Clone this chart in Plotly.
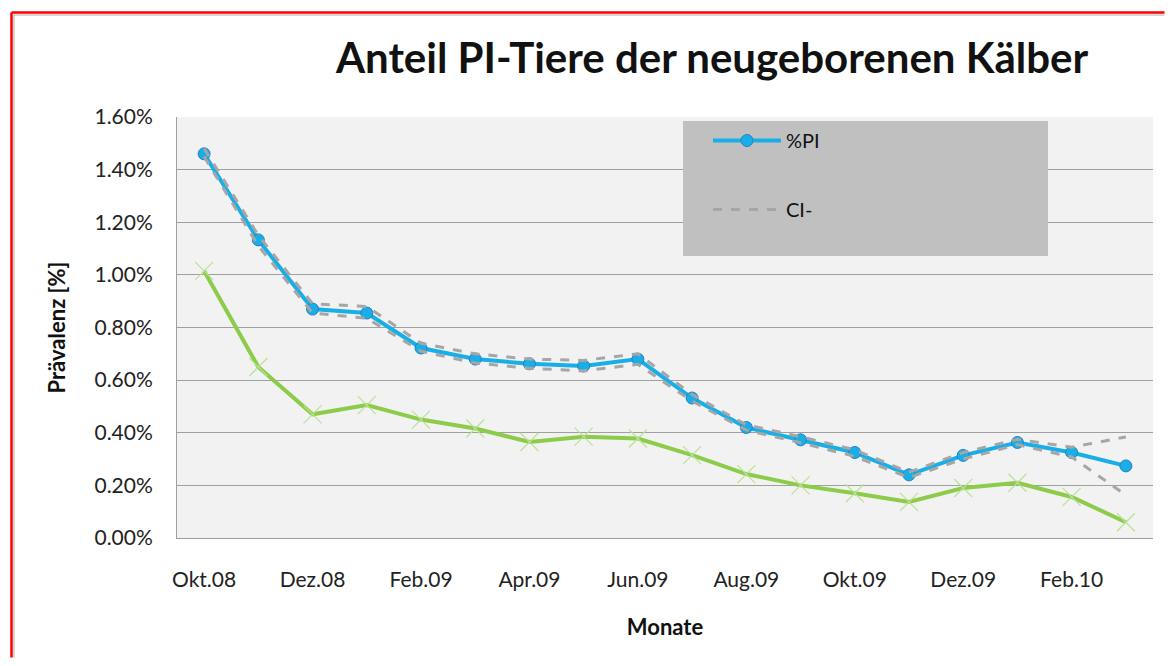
import plotly.graph_objects as go

months = ["Okt.08", "Nov.08", "Dez.08", "Jan.09", "Feb.09", "Mär.09", "Apr.09", "Mai.09",
          "Jun.09", "Jul.09", "Aug.09", "Sep.09", "Okt.09", "Nov.09", "Dez.09", "Jan.10",
          "Feb.10", "Mär.10"]
pct_pi = [1.46, 1.133, 0.87, 0.855, 0.722, 0.68, 0.662, 0.654, 0.68, 0.532,
          0.42, 0.373, 0.325, 0.24, 0.314, 0.363, 0.325, 0.274]
ci_upper = [1.48, 1.15, 0.89, 0.88, 0.74, 0.70, 0.68, 0.675, 0.70, 0.545,
            0.43, 0.385, 0.335, 0.25, 0.325, 0.375, 0.345, 0.384]
ci_lower = [1.45, 1.11, 0.855, 0.835, 0.71, 0.665, 0.645, 0.635, 0.66, 0.52,
            0.41, 0.362, 0.31, 0.23, 0.30, 0.355, 0.308, 0.163]
green = [1.015, 0.65, 0.47, 0.505, 0.45, 0.416, 0.365, 0.385, 0.378, 0.315,
         0.243, 0.20, 0.17, 0.137, 0.19, 0.21, 0.156, 0.06]
y_ticks = [0, 0.2, 0.4, 0.6, 0.8, 1.0, 1.2, 1.4, 1.6]
x_ticks = months[::2]

FONT = "Lato"
fig = go.Figure()

fig.add_trace(go.Scatter(
    x=months, y=green, mode="lines+markers", name="Serie",
    line=dict(color="#8DCB4A", width=4),
    marker=dict(symbol="x-thin", size=18, line=dict(color="#B9E295", width=1.2)),
    showlegend=False))
fig.add_trace(go.Scatter(
    x=months, y=pct_pi, mode="lines+markers", name="%PI", legendgroup="a",
    line=dict(color="#18AEE8", width=4),
    marker=dict(symbol="circle", size=12, color="#18AEE8",
                line=dict(color="#2C7FBF", width=1))))
fig.add_trace(go.Scatter(
    x=months, y=ci_lower, mode="lines", name="CI-", legendgroup="b",
    line=dict(color="#A6A6A6", width=3, dash="dash")))
fig.add_trace(go.Scatter(
    x=months, y=ci_upper, mode="lines", name="CI+", legendgroup="c",
    line=dict(color="#A6A6A6", width=3, dash="dash"), showlegend=False))

# page offset of the figure inside the browser body
OFF = 8
L, R, T, B = 169, 12, 109, 120
W, H = 1157, 650
pw, ph = W - L - R, H - T - B


def px(xpage):
    return (xpage - OFF - L) / pw


def py(ypage):
    return (H - B - (ypage - OFF)) / ph


def border_lines(x, y, color, width):
    xr = W + OFF - 0.5
    yb = H + OFF - 0.5
    return [
        dict(type="line", xref="paper", yref="paper",
             x0=px(x), x1=px(xr), y0=py(y), y1=py(y),
             line=dict(color=color, width=width), layer="below"),
        dict(type="line", xref="paper", yref="paper",
             x0=px(x), x1=px(x), y0=py(y), y1=py(yb),
             line=dict(color=color, width=width), layer="below"),
    ]


fig.update_layout(
    width=W, height=H,
    margin=dict(l=L, r=R, t=T, b=B),
    paper_bgcolor="#FFFFFF",
    plot_bgcolor="#F2F2F2",
    font=dict(family=FONT, size=21, color="#222222"),
    title=dict(text="<b>Anteil PI-Tiere der neugeborenen Kälber</b>",
               font=dict(family=FONT, size=42, color="#111111"),
               xref="container", x=(712 - OFF) / W, xanchor="center",
               y=1 - (58 - OFF) / H, yanchor="middle"),
    xaxis=dict(
        type="category", categoryorder="array", categoryarray=months,
        range=[-0.5, len(months) - 0.5],
        tickmode="array", tickvals=x_ticks, ticktext=x_ticks,
        showgrid=False, showline=True, linecolor="#A0A0A0", linewidth=1,
        ticks="", ticklabelstandoff=23,
        tickfont=dict(family=FONT, size=21, color="#222222"),
        title=dict(text="<b>Monate</b>", font=dict(family=FONT, size=22, color="#111111"),
                   standoff=29),
    ),
    yaxis=dict(
        range=[0, 1.6], tickmode="array", tickvals=y_ticks,
        ticktext=[f"{v:.2f}%" for v in y_ticks],
        showgrid=True, gridcolor="#A0A0A0", gridwidth=1,
        showline=True, linecolor="#A0A0A0", linewidth=1, zeroline=False,
        ticks="", ticklabelstandoff=19,
        tickfont=dict(family=FONT, size=21, color="#222222"),
        title=dict(text="<b>Prävalenz [%]</b>", font=dict(family=FONT, size=22, color="#111111"),
                   standoff=22),
    ),
    legend=dict(
        x=px(708), y=py(121), xanchor="left", yanchor="top",
        bgcolor="rgba(0,0,0,0)", borderwidth=0,
        font=dict(family=FONT, size=20, color="#111111"),
        tracegroupgap=40, itemwidth=68, traceorder="grouped",
    ),
    shapes=[
        dict(type="rect", xref="paper", yref="paper",
             x0=px(683), x1=px(1048), y0=py(256), y1=py(121),
             fillcolor="#C0C0C0", line=dict(width=0), layer="above"),
    ] + border_lines(14, 15, "#B0B0B0", 1) + border_lines(11.5, 12.5, "#FF0000", 2.5),
)

fig.write_html("out.html")
